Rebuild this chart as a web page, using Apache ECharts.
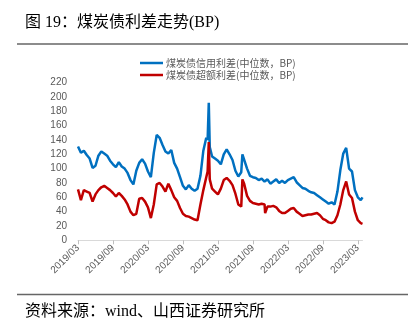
<!DOCTYPE html>
<html>
<head>
<meta charset="utf-8">
<script src="https://cdn.jsdelivr.net/npm/echarts@6/dist/echarts.min.js"></script>
<style>
html,body{margin:0;padding:0;background:#fff;}
#chart{width:414px;height:328px;}
</style>
</head>
<body>
<div id="chart"></div>
<script>
var titleText = '图 19：煤炭债利差走势(BP)';
var sourceText = '资料来源：wind、山西证券研究所';
var seriesNames = ['煤炭债信用利差(中位数，BP)', '煤炭债超额利差(中位数，BP)'];
var xTickLabels = ['2019/03','2019/09','2020/03','2020/09','2021/03','2021/09','2022/03','2022/09','2023/03'];
var yTicks = [0,20,40,60,80,100,120,140,160,180,200,220];

var dates = [
'2019-03-01','2019-03-16','2019-04-01','2019-04-16','2019-05-01','2019-05-16','2019-06-01','2019-06-16',
'2019-07-01','2019-07-16','2019-08-01','2019-08-16','2019-09-01','2019-09-16','2019-10-01','2019-10-16',
'2019-11-01','2019-11-16','2019-12-01','2019-12-16','2020-01-01','2020-01-16','2020-02-01','2020-02-16',
'2020-03-01','2020-03-16','2020-04-01','2020-04-16','2020-05-01','2020-05-16','2020-06-01','2020-06-16',
'2020-07-01','2020-07-16','2020-08-01','2020-08-16','2020-09-01','2020-09-16','2020-10-01','2020-10-16',
'2020-11-01','2020-11-16','2020-12-01','2020-12-16','2021-01-01','2021-01-08','2021-01-14','2021-01-19',
'2021-02-01','2021-02-16','2021-03-01','2021-03-16','2021-04-01','2021-04-16','2021-05-01','2021-05-16',
'2021-06-01','2021-06-16','2021-07-01','2021-07-07','2021-07-16','2021-08-01','2021-08-16','2021-09-01',
'2021-09-16','2021-10-01','2021-10-16','2021-11-01','2021-11-04','2021-11-16','2021-12-01','2021-12-16',
'2022-01-01','2022-01-16','2022-02-01','2022-02-16','2022-03-01','2022-03-16','2022-04-01','2022-04-16',
'2022-05-01','2022-05-16','2022-06-01','2022-06-16','2022-07-01','2022-07-16','2022-08-01','2022-08-16',
'2022-09-01','2022-09-16','2022-10-01','2022-10-16','2022-11-01','2022-11-16','2022-12-01','2022-12-16',
'2023-01-01','2023-01-16','2023-02-01','2023-02-16','2023-03-01','2023-03-16','2023-03-25'
];

var creditSpread = [
131,122,125,119,114,101,104,118,
124,121,118,111,106,102,109,103,
100,94,84,78,97,108,113,107,
96,88,122,147,143,133,124,121,
126,108,100,88,76,71,77,72,
69,72,90,125,143,140,192,130,
117,114,111,106,120,127,120,112,
97,89,95,120,121,100,90,88,
87,84,86,82,83,85,79,82,
85,80,83,80,84,86,88,81,
77,73,72,69,67,66,63,60,
57,54,51,53,50,68,98,121,
129,100,96,70,60,56,60
];

var excessSpread = [
71,56,70,68,66,54,64,70,
74,76,73,70,66,61,66,62,
57,50,40,35,37,58,59,54,
46,31,50,78,80,75,68,79,
70,60,55,45,37,34,33,31,
29,28,50,70,88,96,137,85,
72,68,64,72,84,87,83,77,
65,50,47,85,79,62,55,52,
51,50,51,50,38,47,47,48,
46,41,38,38,41,44,45,40,
37,34,35,36,36,37,38,35,
30,28,25,24,26,35,50,70,
82,64,59,40,28,24,23
];

function monthIndex(d) {
  var p = d.split('-');
  return (+p[0] - 2019) * 12 + (+p[1] - 3) + (+p[2] - 1) / 30;
}
function toPairs(vals) {
  return dates.map(function (d, i) { return [monthIndex(d), vals[i]]; });
}
var tickMonths = xTickLabels.map(function (s) {
  var p = s.split('/');
  return (+p[0] - 2019) * 12 + (+p[1] - 3);
});

var chart = echarts.init(document.getElementById('chart'), null, {renderer: 'canvas'});
var fontMix = '"Liberation Serif", "Noto Sans CJK SC", serif';
var option = {
  animation: false,
  backgroundColor: '#ffffff',
  graphic: [
    {type: 'text', left: 25, top: 15, style: {text: titleText, font: '16px ' + fontMix, fill: '#000'}},
    {type: 'line', shape: {x1: 17, y1: 44, x2: 408, y2: 44}, style: {stroke: '#666', lineWidth: 1.5}},
    {type: 'line', shape: {x1: 17, y1: 294.5, x2: 408, y2: 294.5}, style: {stroke: '#666', lineWidth: 1.5}},
    {type: 'text', left: 25, top: 304, style: {text: sourceText, font: '16px ' + fontMix, fill: '#000'}}
  ],
  legend: {
    orient: 'vertical',
    left: 140,
    top: 57,
    padding: 0,
    icon: 'rect',
    itemWidth: 23,
    itemHeight: 2.5,
    itemGap: 0,
    textStyle: {fontSize: 10, lineHeight: 12, color: '#595959', fontFamily: '"Noto Sans CJK SC", sans-serif', padding: [0, 0, 0, -2]},
    data: seriesNames
  },
  grid: {left: 78, right: 51.5, top: 82.6, bottom: 87.7, containLabel: false},
  xAxis: {
    type: 'value',
    min: 0,
    max: 48.8,
    interval: 6,
    axisLine: {show: true, lineStyle: {color: '#d9d9d9', width: 1}},
    axisTick: {show: true, length: 4, lineStyle: {color: '#bfbfbf'}, customValues: tickMonths},
    splitLine: {show: false},
    axisLabel: {
      rotate: 45,
      fontSize: 10,
      color: '#595959',
      margin: 6,
      fontFamily: '"Liberation Sans", sans-serif',
      customValues: tickMonths,
      formatter: function (v) {
        var i = tickMonths.indexOf(Math.round(v));
        return i >= 0 ? xTickLabels[i] : '';
      }
    }
  },
  yAxis: {
    type: 'value',
    min: yTicks[0],
    max: yTicks[yTicks.length - 1],
    interval: 20,
    axisLine: {show: false},
    axisTick: {show: false},
    splitLine: {show: false},
    axisLabel: {fontSize: 10, color: '#595959', margin: 11, fontFamily: '"Liberation Sans", sans-serif'}
  },
  series: [
    {
      name: seriesNames[0], type: 'line', data: toPairs(creditSpread),
      symbol: 'none', lineStyle: {color: '#0070C0', width: 2.5}, itemStyle: {color: '#0070C0'}
    },
    {
      name: seriesNames[1], type: 'line', data: toPairs(excessSpread),
      symbol: 'none', lineStyle: {color: '#C00000', width: 2.5}, itemStyle: {color: '#C00000'}
    }
  ]
};
chart.setOption(option);
</script>
</body>
</html>
